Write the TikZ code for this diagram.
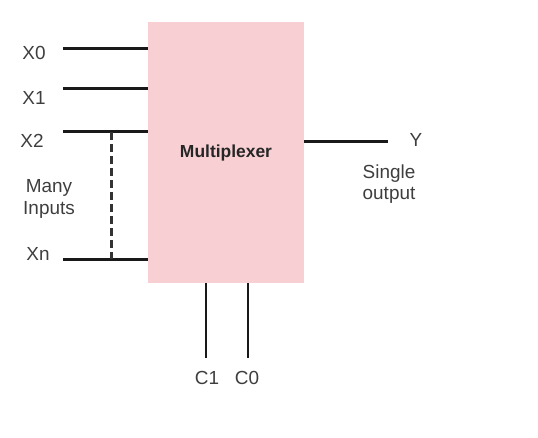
\documentclass[tikz,border=0pt]{standalone}
\usepackage{fontspec}
\setmainfont{Liberation Sans}
\usetikzlibrary{shapes}
\definecolor{muxpink}{RGB}{248,208,212}
\definecolor{pingray}{RGB}{62,62,62}
\tikzset{
	mux/.style      = {rectangle, fill = muxpink, minimum width = 156bp,
		minimum height = 261bp, inner sep = 0pt, text = black!85,
		font = \fontsize{17.5}{20}\selectfont\bfseries},
	pin/.style      = {text = pingray, font = \fontsize{19}{21.5}\selectfont,
		align = center, inner sep = 0pt},
	wire/.style     = {line width = 3bp, black!90},
	dots/.style     = {line width = 3bp, black!80, dash pattern = on 8bp off 4bp},
	input/.style    = {coordinate}, % Input
	output/.style   = {coordinate} % Output
}

\begin{document}
\begin{tikzpicture}[x=1bp, y=-1bp]
	\useasboundingbox (0,0) rectangle (538,438);
	\draw
	node at (226,152.5) [mux] (m) {Multiplexer}
	node at (63,49) [input] (i0) {}
	node at (63,89) [input] (i1) {}
	node at (63,132) [input] (i2) {}
	node at (63,259) [input] (in) {}
	node at (148,49) [input] (e0) {}
	node at (148,89) [input] (e1) {}
	node at (148,132) [input] (e2) {}
	node at (148,259) [input] (en) {}
	node at (111,132) [input] (t) {}
	node at (111,259) [input] (b) {}
	node at (304,142) [output] (o) {}
	node at (388,142) [output] (y) {}
	node at (206,283) [input] (s1) {}
	node at (206,358) [input] (c1) {}
	node at (248,283) [input] (s0) {}
	node at (248,358) [input] (c0) {};

	\draw
	node at (34,53) [pin] (x0) {X0}
	node at (34,98) [pin] (x1) {X1}
	node at (32,141) [pin] (x2) {X2}
	node at (38,254) [pin] (xn) {Xn}
	node at (49,199) [pin] (many) {Many\\Inputs}
	node at (416,140) [pin] (ly) {Y}
	node at (389,184) [pin] (single) {Single\\output}
	node at (207,378) [pin] (lc1) {C1}
	node at (247,378) [pin] (lc0) {C0};

	\draw[wire](i0)--(e0);
	\draw[wire](i1)--(e1);
	\draw[wire](i2)--(e2);
	\draw[wire](in)--(en);
	\draw[dots](t)--(b);
	\draw[wire](o)--(y);
	\draw[wire, line width = 2.5bp](s1)--(c1);
	\draw[wire, line width = 2.5bp](s0)--(c0);
\end{tikzpicture}
\end{document}
